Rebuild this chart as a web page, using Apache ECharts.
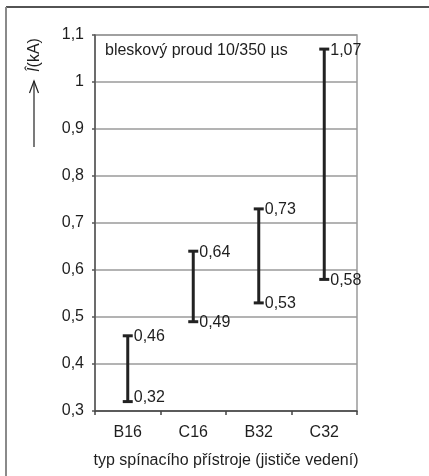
<!DOCTYPE html>
<html>
<head>
<meta charset="utf-8">
<script src="https://cdn.jsdelivr.net/npm/echarts@6/dist/echarts.min.js"></script>
<style>
  html, body { margin: 0; padding: 0; background: #fff; }
  #chart { width: 429px; height: 476px; }
</style>
</head>
<body>
<div id="chart"></div>
<script>
// Breaker types (line circuit breakers)
const categories = ['B16', 'C16', 'B32', 'C32'];
// Lower and upper limits of the range for each type, kA
const lowValues = [0.32, 0.49, 0.53, 0.58];
const highValues = [0.46, 0.64, 0.73, 1.07];
// Value axis range and tick labels
const yMin = 0.3;
const yMax = 1.1;
const yStep = 0.1;
const yTickLabels = ['0,3', '0,4', '0,5', '0,6', '0,7', '0,8', '0,9', '1', '1,1'];

const textColor = '#1e1e1e';
const fontFamily = '"Liberation Sans", Arial, sans-serif';
const fs = 16;

const fmt = v => String(v).replace('.', ',');

const rangeData = categories.map((c, i) => [i, lowValues[i], highValues[i]]);

const chart = echarts.init(document.getElementById('chart'), null, { renderer: 'canvas' });

chart.setOption({
  animation: false,
  backgroundColor: '#fff',
  grid: {
    left: 95, right: 72, top: 35, bottom: 65,
    show: true, borderColor: '#9a9a9a', borderWidth: 1.5
  },
  xAxis: {
    type: 'category',
    data: categories,
    boundaryGap: true,
    name: 'typ spínacího přístroje (jističe vedení)',
    nameLocation: 'middle',
    nameGap: 42,
    nameTextStyle: { color: textColor, fontSize: fs, fontFamily },
    axisLine: { lineStyle: { color: '#444', width: 1.5 } },
    axisTick: { show: true, length: 4, lineStyle: { color: '#444', width: 1.5 } },
    axisLabel: { color: textColor, fontSize: fs, fontFamily, margin: 14 },
    splitLine: { show: false }
  },
  yAxis: {
    type: 'value',
    min: yMin, max: yMax, interval: yStep,
    axisLine: { show: true, lineStyle: { color: '#555', width: 1.5 } },
    axisTick: { show: true, length: 3, lineStyle: { color: '#555', width: 1.5 } },
    axisLabel: {
      color: textColor, fontSize: fs, fontFamily, margin: 11,
      formatter: (v) => yTickLabels[Math.round((v - yMin) / yStep)]
    },
    splitLine: { show: true, lineStyle: { color: '#9a9a9a', width: 1.5 } }
  },
  series: [{
    type: 'custom',
    data: rangeData,
    encode: { x: 0, y: [1, 2] },
    z: 10,
    renderItem: function (params, api) {
      const idx = api.value(0);
      const lo = api.value(1);
      const hi = api.value(2);
      const pLo = api.coord([idx, lo]);
      const pHi = api.coord([idx, hi]);
      const x = pLo[0];
      const cap = 5;
      const stroke = { stroke: '#222', lineWidth: 3 };
      return {
        type: 'group',
        children: [
          { type: 'line', shape: { x1: x, y1: pLo[1], x2: x, y2: pHi[1] }, style: stroke },
          { type: 'line', shape: { x1: x - cap, y1: pHi[1], x2: x + cap, y2: pHi[1] }, style: stroke },
          { type: 'line', shape: { x1: x - cap, y1: pLo[1], x2: x + cap, y2: pLo[1] }, style: stroke },
          { type: 'text', x: x + 6, y: pHi[1] + 1,
            style: { text: fmt(hi), fill: textColor, font: fs + 'px ' + fontFamily,
                     textAlign: 'left', textVerticalAlign: 'middle' } },
          { type: 'text', x: x + 6, y: pLo[1] + (idx === 0 ? -4 : 1),
            style: { text: fmt(lo), fill: textColor, font: fs + 'px ' + fontFamily,
                     textAlign: 'left', textVerticalAlign: 'middle' } }
        ]
      };
    }
  }],
  graphic: [
    // outer frame: top and left edges
    { type: 'line', shape: { x1: 6, y1: 7, x2: 429, y2: 7 }, style: { stroke: '#1a1a1a', lineWidth: 1.5 } },
    { type: 'line', shape: { x1: 6, y1: 7, x2: 6, y2: 476 }, style: { stroke: '#8a8a8a', lineWidth: 2 } },
    // caption inside the plot
    { type: 'text', x: 105, y: 51,
      style: { text: 'bleskový proud 10/350 µs', fill: textColor, font: fs + 'px ' + fontFamily,
               textAlign: 'left', textVerticalAlign: 'middle' } },
    // vertical axis name with arrow
    { type: 'text', x: 35, y: 55, rotation: Math.PI / 2,
      style: {
        text: '{i|Î}(kA)', fill: textColor, font: fs + 'px ' + fontFamily,
        textAlign: 'center', textVerticalAlign: 'middle',
        rich: { i: { fontStyle: 'italic', fontSize: fs, fontFamily, fill: textColor } }
      } },
    { type: 'line', shape: { x1: 34, y1: 147, x2: 34, y2: 81 }, style: { stroke: '#222', lineWidth: 1.2 } },
    { type: 'polyline', shape: { points: [[29.5, 93], [34, 81], [38.5, 93]] }, style: { stroke: '#222', lineWidth: 1.2, fill: null } }
  ]
});
</script>
</body>
</html>
